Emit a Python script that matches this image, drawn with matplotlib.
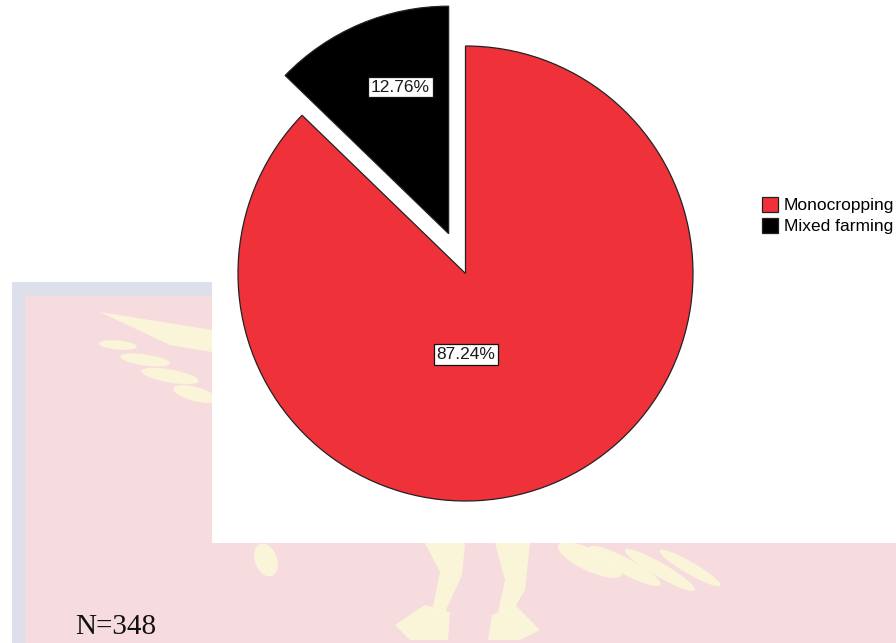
import matplotlib.pyplot as plt
from matplotlib.patches import Rectangle, Ellipse, Polygon
import numpy as np

# farming system shares (%), order of drawing: black slice first from 12 o'clock
categories = ['Mixed farming', 'Monocropping']
shares = [12.76, 87.24]
colors = ['#000000', '#EF323A']
explode_frac = [0.19, 0.0]
n_total = 348

W, H = 896, 643
fig = plt.figure(figsize=(W / 100, H / 100), dpi=100)
fig.patch.set_facecolor('white')

# background layer in pixel coordinates (y down)
bg = fig.add_axes([0, 0, 1, 1])
bg.set_xlim(0, W)
bg.set_ylim(H, 0)
bg.axis('off')

# faded crest watermark behind the chart
bg.add_patch(Rectangle((12, 282), W - 12, H - 282, fc='#DDE0EA', ec='none'))
bg.add_patch(Rectangle((25, 296), W - 25, H - 296, fc='#F7DCDF', ec='none'))
feather = dict(fc='#FBF7D9', ec='none', alpha=0.9)
bg.add_patch(Polygon([(100, 312), (212, 330), (212, 352), (170, 345)], **feather))
for ex, ey, w, h, a in [(118, 345, 38, 9, 5), (145, 360, 50, 11, 8),
                        (170, 376, 58, 13, 10), (195, 394, 45, 14, 15)]:
    bg.add_patch(Ellipse((ex, ey), w, h, angle=a, **feather))
bg.add_patch(Ellipse((266, 560), 22, 34, angle=-20, **feather))
bg.add_patch(Polygon([(425, 543), (465, 543), (462, 575), (445, 612), (432, 612), (440, 572)], **feather))
bg.add_patch(Polygon([(395, 625), (425, 605), (450, 612), (448, 640), (410, 640)], **feather))
bg.add_patch(Polygon([(495, 543), (530, 543), (525, 590), (510, 615), (498, 612), (505, 580)], **feather))
bg.add_patch(Polygon([(488, 640), (492, 615), (515, 605), (540, 630), (520, 640)], **feather))
for ex, ey, w, h, a in [(590, 560, 70, 22, 25), (625, 566, 80, 16, 28),
                        (660, 570, 80, 14, 30), (690, 568, 70, 12, 30)]:
    bg.add_patch(Ellipse((ex, ey), w, h, angle=a, **feather))

# white chart area
bg.add_patch(Rectangle((212, 0), W - 212, 543, fc='white', ec='none'))
bg.text(75, 634, f'N={n_total}', family='Liberation Serif', fontsize=21,
        color='#111111', ha='left', va='baseline')

# pie layer in pixel coordinates (y up)
ax = fig.add_axes([0, 0, 1, 1])
ax.patch.set_alpha(0)
cx, cy, r = 465.5, H - 273.5, 227.5
wedges, _ = ax.pie(shares, colors=colors, explode=[e * r for e in explode_frac],
                   startangle=90, counterclock=True, center=(cx, cy), radius=r,
                   frame=True, wedgeprops=dict(edgecolor='#222222', linewidth=0.9))
ax.set_xlim(0, W)
ax.set_ylim(0, H)
ax.set_aspect('auto')
ax.axis('off')

# percentage labels
label_pos = [(cx - 65, cy + 186.5), (cx + 0.5, cy - 81)]
for (lx, ly), v in zip(label_pos, shares):
    ax.text(lx, ly, f'{v:.2f}%', family='Liberation Sans', fontsize=12.5,
            color='#1a1a1a', ha='center', va='center',
            bbox=dict(boxstyle='square,pad=0.16', fc='white', ec='#111111', lw=0.9))

ax.legend([wedges[1], wedges[0]], [categories[1], categories[0]],
          loc='upper left', bbox_to_anchor=(762 / W, 1 - 197 / H),
          bbox_transform=fig.transFigure, frameon=False,
          prop=dict(family='Liberation Sans', size=12.5),
          handlelength=0.95, handleheight=0.95, handletextpad=0.3,
          labelspacing=0.25, borderpad=0, borderaxespad=0)

fig.savefig('out.png', dpi=100)
